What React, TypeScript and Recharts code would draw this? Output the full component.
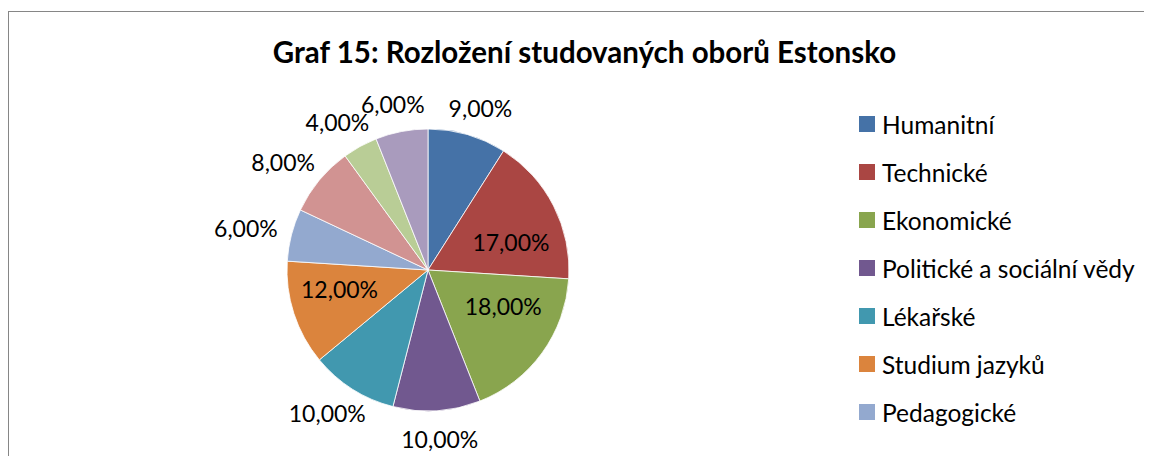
import React from 'react';
import { PieChart, Pie, Cell, Legend } from 'recharts';

// study fields, Estonia (share of respondents, %)
const categories = [
  'Humanitní',
  'Technické',
  'Ekonomické',
  'Politické a sociální vědy',
  'Lékařské',
  'Studium jazyků',
  'Pedagogické',
  'Přírodovědné',
  'Umělecké',
  'Ostatní',
];
const shares = [9, 17, 18, 10, 10, 12, 6, 8, 4, 6];
const colors = [
  '#4572A7',
  '#AA4643',
  '#89A54E',
  '#71588F',
  '#4198AF',
  '#DB843D',
  '#93A9CF',
  '#D19392',
  '#B9CD96',
  '#A99BBD',
];
const visibleLegendItems = 7;

const FONT = 'Lato, "Open Sans", sans-serif';
const RAD = Math.PI / 180;

const data = categories.map((name, i) => ({ name, value: shares[i] }));

const fmt = (v: number) => `${v.toFixed(2).replace('.', ',')}%`;

function renderLabel(props: any) {
  const { cx, cy, midAngle, outerRadius, value } = props;
  const ux = Math.cos(-midAngle * RAD);
  const uy = Math.sin(-midAngle * RAD);
  let x: number;
  let y: number;
  if (value >= 12) {
    // big slices get the label inside (wide labels, so flatter placement)
    x = cx + outerRadius * 0.66 * ux;
    y = cy + outerRadius * 0.44 * uy;
  } else {
    const r = outerRadius + 16;
    x = cx + r * ux + 31 * ux;
    y = cy + r * uy + 12 * uy;
  }
  return (
    <text
      x={x}
      y={y}
      fill="#000"
      textAnchor="middle"
      dominantBaseline="central"
      style={{ fontFamily: FONT, fontSize: 23 }}
    >
      {fmt(value)}
    </text>
  );
}

function LegendBox() {
  // only the first entries fit in the plot frame
  const items = categories.slice(0, visibleLegendItems);
  return (
    <div style={{ fontFamily: FONT, fontSize: 24.5, color: '#000' }}>
      {items.map((name, i) => (
        <div key={name} style={{ height: 48, display: 'flex', alignItems: 'center' }}>
          <span
            style={{
              display: 'inline-block',
              width: 16,
              height: 16,
              background: colors[i],
              marginRight: 7,
            }}
          />
          <span style={{ whiteSpace: 'nowrap' }}>{name}</span>
        </div>
      ))}
    </div>
  );
}

export default function App() {
  return (
    <div style={{ position: 'relative', width: 1144, height: 448, overflow: 'hidden' }}>
      <div
        style={{
          position: 'absolute',
          left: 0,
          top: 3,
          width: 1144,
          height: 445,
          borderTop: '1px solid #868686',
          borderLeft: '1px solid #868686',
          boxSizing: 'border-box',
        }}
      />
      <div
        style={{
          position: 'absolute',
          left: 0,
          top: 29,
          width: 1153,
          textAlign: 'center',
          fontFamily: FONT,
          fontWeight: 700,
          fontSize: 29.5,
          lineHeight: 1,
          color: '#000',
        }}
      >
        Graf 15: Rozložení studovaných oborů Estonsko
      </div>
      <div style={{ position: 'absolute', left: 0, top: 0 }}>
        <PieChart width={1144} height={448} margin={{ top: 0, right: 0, bottom: 0, left: 0 }}>
          <Pie
            data={data}
            dataKey="value"
            nameKey="name"
            cx={420}
            cy={262}
            outerRadius={141}
            startAngle={90}
            endAngle={-270}
            stroke="#fff"
            strokeWidth={0.8}
            label={renderLabel}
            labelLine={false}
            isAnimationActive={false}
          >
            {data.map((_, i) => (
              <Cell key={i} fill={colors[i]} />
            ))}
          </Pie>
          <Legend
            layout="vertical"
            align="right"
            verticalAlign="top"
            content={<LegendBox />}
            wrapperStyle={{ position: 'absolute', left: 851, top: 92, width: 290 }}
          />
        </PieChart>
      </div>
    </div>
  );
}
